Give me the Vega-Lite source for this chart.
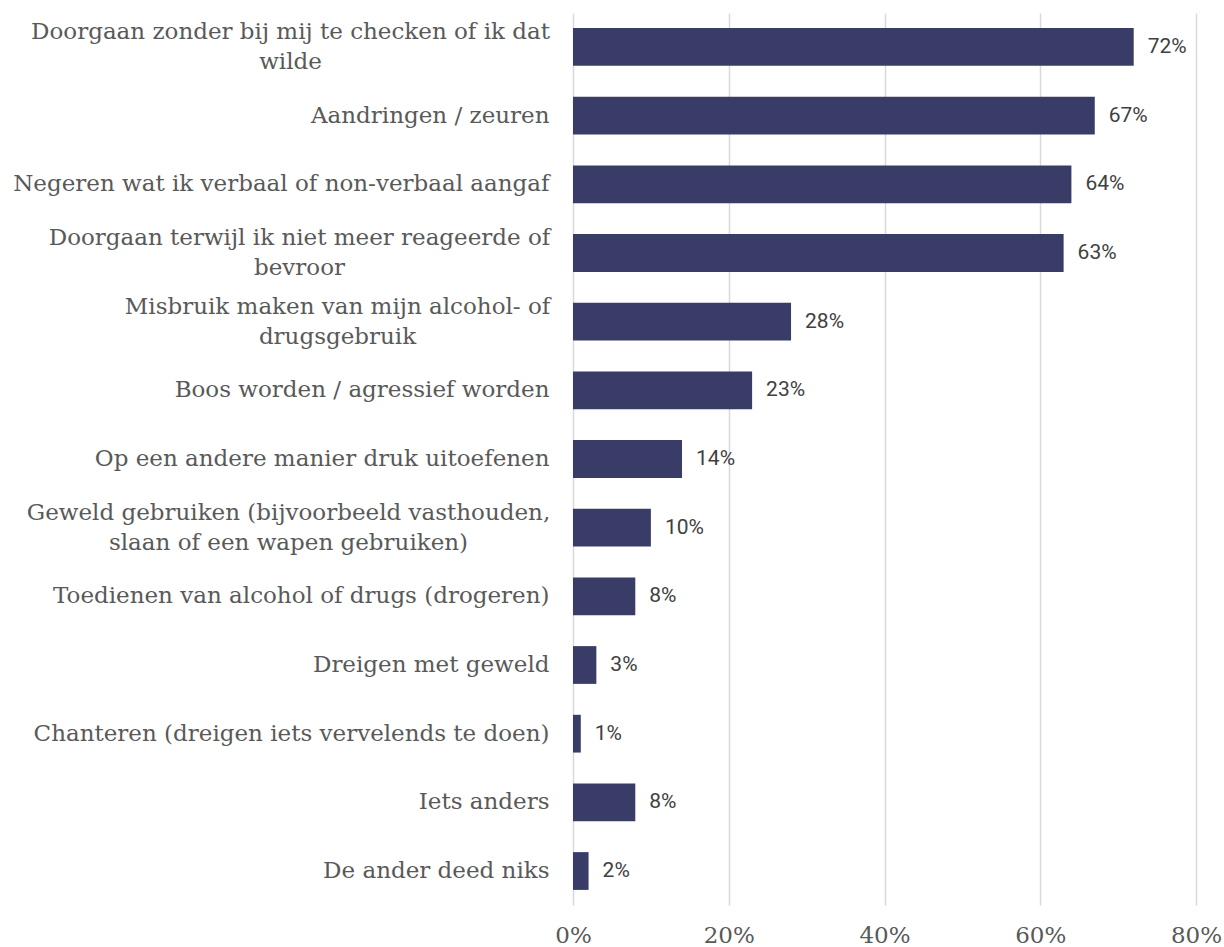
{
  "$schema": "https://vega.github.io/schema/vega-lite/v6.json",
  "width": 623,
  "height": 892,
  "autosize": "none",
  "padding": {"left": 573, "top": 13, "right": 28, "bottom": 42},
  "background": "white",
  "config": {"view": {"stroke": null}},
  "data": {
    "values": [
      {"item": "Doorgaan zonder bij mij te checken of ik dat|wilde", "value": 0.72},
      {"item": "Aandringen / zeuren\u00a0", "value": 0.67},
      {"item": "Negeren wat ik verbaal of non-verbaal aangaf", "value": 0.64},
      {"item": "Doorgaan terwijl ik niet meer reageerde of|bevroor", "value": 0.63},
      {"item": "Misbruik maken van mijn alcohol- of|drugsgebruik", "value": 0.28},
      {"item": "Boos worden / agressief worden", "value": 0.23},
      {"item": "Op een andere manier druk uitoefenen", "value": 0.14},
      {"item": "Geweld gebruiken (bijvoorbeeld vasthouden,|slaan of een wapen gebruiken)", "value": 0.10},
      {"item": "Toedienen van alcohol of drugs (drogeren)", "value": 0.08},
      {"item": "Dreigen met geweld", "value": 0.03},
      {"item": "Chanteren (dreigen iets vervelends te doen)", "value": 0.01},
      {"item": "Iets anders", "value": 0.08},
      {"item": "De ander deed niks", "value": 0.02}
    ]
  },
  "encoding": {
    "y": {
      "field": "item",
      "type": "nominal",
      "sort": null,
      "scale": {"paddingInner": 0.45, "paddingOuter": 0.22},
      "axis": {
        "title": null,
        "domain": false,
        "ticks": false,
        "labelExpr": "split(datum.label, '|')",
        "labelFont": "DejaVu Serif",
        "labelFontSize": 23,
        "labelColor": "#595959",
        "labelLimit": 0,
        "labelLineHeight": 30,
        "labelAlign": {"condition": {"test": "indexof(datum.label, '|') >= 0", "value": "center"}, "value": "right"},
        "labelOffset": {"condition": {"test": "indexof(datum.label, '|') >= 0", "value": -15}, "value": 0},
        "labelPadding": {
          "condition": [
            {"test": "indexof(datum.label, 'checken') >= 0", "value": 283},
            {"test": "indexof(datum.label, 'terwijl') >= 0", "value": 274},
            {"test": "indexof(datum.label, 'Misbruik') >= 0", "value": 236},
            {"test": "indexof(datum.label, 'Geweld gebruiken') >= 0", "value": 285}
          ],
          "value": 24
        }
      }
    },
    "x": {
      "field": "value",
      "type": "quantitative",
      "scale": {"domain": [0, 0.8]},
      "axis": {
        "title": null,
        "values": [0, 0.2, 0.4, 0.6, 0.8],
        "format": ".0%",
        "domain": false,
        "ticks": false,
        "grid": true,
        "gridColor": "#d9d9d9",
        "gridWidth": 1.5,
        "labelFont": "DejaVu Serif",
        "labelFontSize": 23,
        "labelColor": "#595959",
        "labelPadding": 19,
        "labelFlush": false
      }
    }
  },
  "layer": [
    {"mark": {"type": "bar", "color": "#393c66"}},
    {
      "mark": {"type": "text", "align": "left", "dx": 14, "font": "Roboto", "fontSize": 21, "color": "#404040"},
      "encoding": {"text": {"field": "value", "type": "quantitative", "format": ".0%"}}
    }
  ]
}
